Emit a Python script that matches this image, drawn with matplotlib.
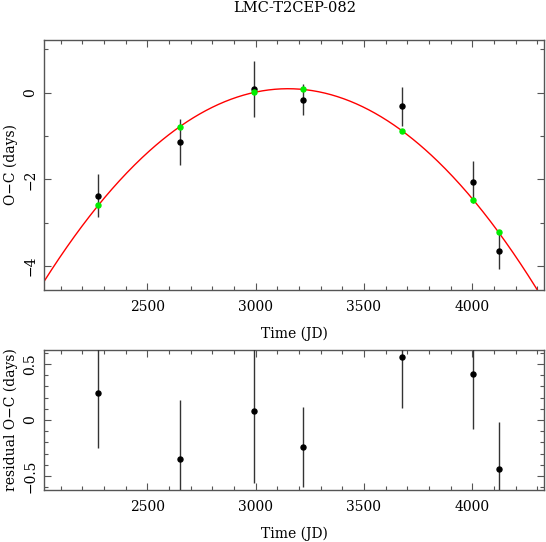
import numpy as np
import matplotlib
matplotlib.use("Agg")
import matplotlib.pyplot as plt
from matplotlib.ticker import MultipleLocator, FuncFormatter

# ---- data ----
title = "LMC-T2CEP-082"
jd = [2273, 2649, 2993, 3219, 3674, 4005, 4122]
oc = [-2.37, -1.14, 0.09, -0.16, -0.31, -2.06, -3.65]
oc_err = [0.49, 0.53, 0.64, 0.36, 0.45, 0.49, 0.42]
oc_model = [-2.60, -0.79, 0.01, 0.08, -0.87, -2.48, -3.22]
residual = [0.24, -0.35, 0.08, -0.24, 0.56, 0.41, -0.44]

plt.rcParams['font.family'] = ['DejaVu Serif']
FS = 10
SPINE = '#555555'

fig = plt.figure(figsize=(5.46, 5.42), dpi=100)
W, H = 546, 542
def rect(l, t, r, b):
    return [l / W, (H - b) / H, (r - l) / W, (b - t) / H]

ax1 = fig.add_axes(rect(44.3, 39.5, 544.3, 290))
ax2 = fig.add_axes(rect(44.3, 350, 544.3, 490))

xlim = (2025, 4332)

# fitted quadratic through the model points
coef = np.polyfit(jd, oc_model, 2)
tt = np.linspace(xlim[0], xlim[1], 400)
ax1.plot(tt, np.polyval(coef, tt), color='red', lw=1.0, zorder=2)
ax1.errorbar(jd, oc, yerr=oc_err, fmt='o', color='black', ms=3.6,
             ecolor='#333333', elinewidth=1.0, capsize=0, zorder=3)
ax1.plot(jd, oc_model, 'o', color='#00ee00', ms=3.6, zorder=4)
ax1.set_xlim(*xlim)
ax1.set_ylim(-4.55, 1.23)
ax1.yaxis.set_major_locator(MultipleLocator(2))
ax1.yaxis.set_minor_locator(MultipleLocator(1))
ax1.set_ylabel("O\u2212C (days)", fontsize=FS, labelpad=4)

ax2.errorbar(jd, residual, yerr=oc_err, fmt='o', color='black', ms=3.6,
             ecolor='#333333', elinewidth=1.0, capsize=0, zorder=3)
ax2.set_xlim(*xlim)
ax2.set_ylim(-0.624, 0.624)
ax2.yaxis.set_major_locator(MultipleLocator(0.5))
ax2.yaxis.set_minor_locator(MultipleLocator(0.1))
ax2.set_ylabel("residual O\u2212C (days)", fontsize=FS, labelpad=4)

for ax in (ax1, ax2):
    ax.xaxis.set_major_locator(MultipleLocator(500))
    ax.xaxis.set_minor_locator(MultipleLocator(100))
    ax.set_xlabel("Time (JD)", fontsize=FS, labelpad=9)
    ax.tick_params(which='both', direction='in', top=True, right=True,
                   color=SPINE, labelsize=FS, width=0.8)
    ax.tick_params(which='major', length=5)
    ax.tick_params(which='minor', length=3)
    ax.tick_params(axis='x', pad=7)
    ax.tick_params(axis='y', pad=5)
    ax.yaxis.set_major_formatter(FuncFormatter(
        lambda v, p: ("%g" % v).replace('-', '\u2212')))
    for lab in ax.get_yticklabels():
        lab.set_rotation(90)
        lab.set_va('center')
    for s in ax.spines.values():
        s.set_color(SPINE)
        s.set_linewidth(1.0)

fig.text((44.3 + 544.3) / 2 / W, 1 - 8 / H, title, ha='center', va='center',
         fontsize=FS + 0.5)

fig.savefig("out.png", dpi=100)
